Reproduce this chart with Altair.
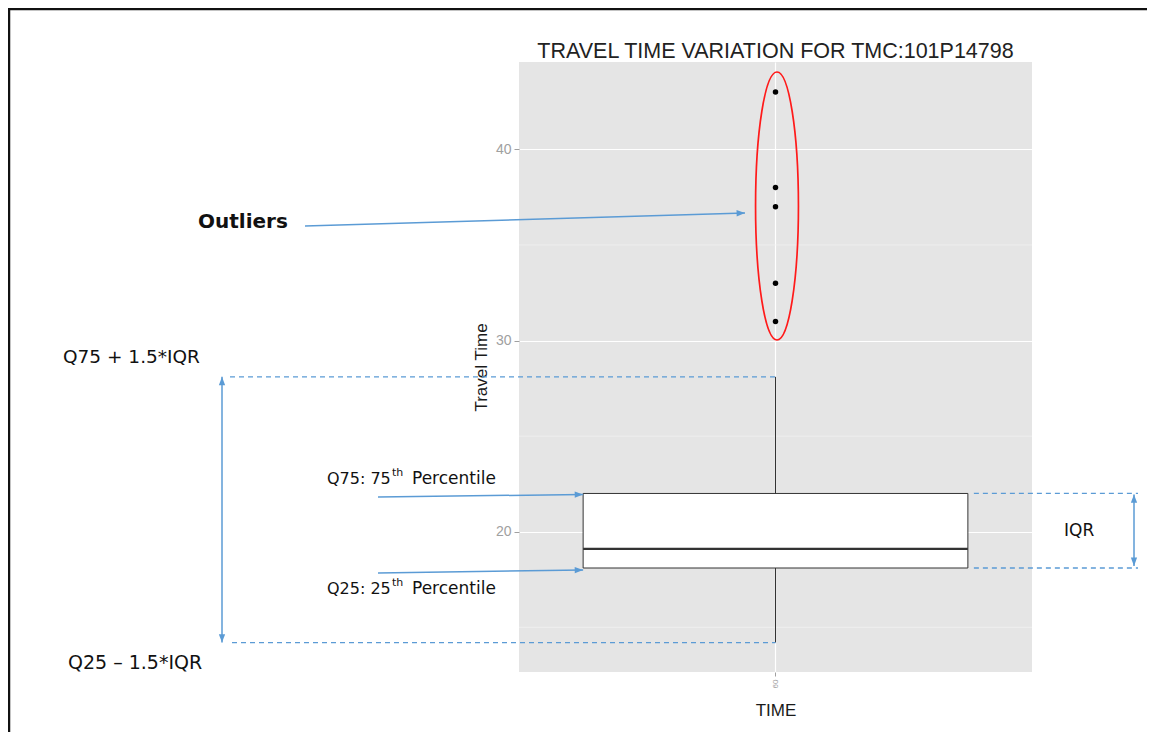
import math
import altair as alt
import pandas as pd

# ---------------- data ----------------
CATEGORY = ["60"]
POSITION = [1.0]
Q1 = [18.1]
MEDIAN = [19.1]
Q3 = [22.0]
WHISKER_LO = [14.2]
WHISKER_HI = [28.1]
OUTLIERS = [43.0, 38.0, 37.0, 33.0, 31.0]
MAJOR_TICKS = [20, 30, 40]
MINOR_TICKS = [15, 25, 35]
Y_DOMAIN = [12.66, 44.57]
X_DOMAIN = [0.4, 1.6]
BOX_HALF_WIDTH = 0.45

TITLE = "TRAVEL TIME VARIATION FOR TMC:101P14798"
Y_TITLE = "Travel Time"
X_TITLE = "TIME"

# ---------------- layout (page pixels) ----------------
PLOT_LEFT, PLOT_TOP, W, H = 519, 62, 513, 610
CHART_W, CHART_H = 1139, 724
BLUE = "#5B9BD5"
ANN_FONT = "DejaVu Sans"
GG_FONT = "Liberation Sans"


def px(x):
    return x - PLOT_LEFT


def py(y):
    return y - PLOT_TOP


YSCALE = alt.Scale(domain=Y_DOMAIN, nice=False, zero=False)
XSCALE = alt.Scale(domain=X_DOMAIN, nice=False, zero=False)
YAX = alt.Axis(values=MAJOR_TICKS, grid=True, gridColor="white", gridWidth=1.2,
               domain=False, tickColor="#a0a0a0", tickSize=5, labelColor="#a0a0a0",
               labelFont=GG_FONT, labelFontSize=14, labelPadding=3,
               title=Y_TITLE, titleFont=GG_FONT, titleFontSize=17,
               titleFontWeight="normal", titleColor="#1a1a1a", titlePadding=5)
XAX = alt.Axis(values=POSITION, labelExpr="'" + CATEGORY[0] + "'", grid=True,
               gridColor="white", gridWidth=1.2, domain=False, tickColor="#a0a0a0",
               tickSize=4, labelColor="#a0a0a0", labelFont=GG_FONT, labelFontSize=8,
               labelAngle=270, labelPadding=3, title=X_TITLE, titleFont=GG_FONT,
               titleFontSize=17, titleFontWeight="normal", titleColor="#1a1a1a",
               titlePadding=15)


def xenc(field=None, datum=None):
    if datum is not None:
        return alt.X(datum=datum, type="quantitative", scale=XSCALE, axis=XAX)
    return alt.X(field, type="quantitative", scale=XSCALE, axis=XAX)


def yenc(field=None, datum=None):
    if datum is not None:
        return alt.Y(datum=datum, type="quantitative", scale=YSCALE, axis=YAX)
    return alt.Y(field, type="quantitative", scale=YSCALE, axis=YAX)


box_df = pd.DataFrame({
    "pos": POSITION,
    "x0": [p - BOX_HALF_WIDTH for p in POSITION],
    "x1": [p + BOX_HALF_WIDTH for p in POSITION],
    "q1": Q1, "med": MEDIAN, "q3": Q3, "lo": WHISKER_LO, "hi": WHISKER_HI,
})
out_df = pd.DataFrame({"pos": POSITION * len(OUTLIERS), "v": OUTLIERS})
minor_df = pd.DataFrame({"v": MINOR_TICKS})

layers = []

# minor grid
layers.append(alt.Chart(minor_df).mark_rule(color="#f2f2f2", strokeWidth=0.7)
              .encode(y=yenc("v")))
# whisker
layers.append(alt.Chart(box_df).mark_rule(color="#333333", strokeWidth=1)
              .encode(x=xenc("pos"), y=yenc("lo"), y2="hi"))
# box
layers.append(alt.Chart(box_df).mark_rect(fill="white", stroke="#333333", strokeWidth=1)
              .encode(x=xenc("x0"), x2="x1", y=yenc("q1"), y2="q3"))
# median
layers.append(alt.Chart(box_df).mark_rule(color="#333333", strokeWidth=2.2)
              .encode(x=xenc("x0"), x2="x1", y=yenc("med")))
# outliers
layers.append(alt.Chart(out_df).mark_point(filled=True, color="black", size=30, opacity=1)
              .encode(x=xenc("pos"), y=yenc("v")))

# ---------------- annotations ----------------
ARROW_PATH = "M0,0L0.6,1.6L-0.6,1.6Z"


def head(x, y, ang):
    return (alt.Chart().mark_point(shape=ARROW_PATH, filled=True, fill=BLUE, strokeWidth=0,
                                   size=110, opacity=1, angle=ang % 360)
            .encode(x=alt.value(x), y=alt.value(y)))


def arrow(x1, y1, x2, y2, both=False):
    out = [alt.Chart().mark_rule(color=BLUE, strokeWidth=1.5)
           .encode(x=alt.value(x1), y=alt.value(y1), x2=alt.value(x2), y2=alt.value(y2))]
    ang = math.degrees(math.atan2(x2 - x1, -(y2 - y1)))
    out.append(head(x2, y2, ang))
    if both:
        out.append(head(x1, y1, ang + 180))
    return out


def dashed(x1, x2, v):
    return (alt.Chart().mark_rule(color=BLUE, strokeWidth=1.3, strokeDash=[5, 4])
            .encode(x=alt.value(x1), x2=alt.value(x2), y=yenc(datum=v)))


def label(text, x, y, size, align="left", weight="normal", font=ANN_FONT, color="#111111"):
    return (alt.Chart().mark_text(align=align, baseline="middle", font=font, fontSize=size,
                                  fontWeight=weight, color=color)
            .encode(x=alt.value(x), y=alt.value(y), text=alt.value(text)))


def yv(v):
    return (Y_DOMAIN[1] - v) / (Y_DOMAIN[1] - Y_DOMAIN[0]) * H


box_left = (POSITION[0] - BOX_HALF_WIDTH - X_DOMAIN[0]) / (X_DOMAIN[1] - X_DOMAIN[0]) * W
box_right = (POSITION[0] + BOX_HALF_WIDTH - X_DOMAIN[0]) / (X_DOMAIN[1] - X_DOMAIN[0]) * W
center = (POSITION[0] - X_DOMAIN[0]) / (X_DOMAIN[1] - X_DOMAIN[0]) * W

# dashed guide lines
layers.append(dashed(px(230), center, WHISKER_HI[0]))
layers.append(dashed(px(232), center, WHISKER_LO[0]))
layers.append(dashed(box_right + 6, px(1138), Q3[0]))
layers.append(dashed(box_right + 6, px(1138), Q1[0]))

# arrows
layers += arrow(px(305), py(226), px(745), py(213))
layers += arrow(px(222), yv(WHISKER_LO[0]), px(222), yv(WHISKER_HI[0]), both=True)
layers += arrow(px(378), py(497), box_left, yv(Q3[0]) + 1)
layers += arrow(px(378), py(573), box_left, yv(Q1[0]) + 2)
layers += arrow(px(1134), yv(Q1[0]) - 2, px(1134), yv(Q3[0]) + 1, both=True)

# text
layers.append(label("Outliers", px(198), py(222), 20, weight="bold"))
layers.append(label("Q75 + 1.5*IQR", px(63), py(357), 18.5))
layers.append(label("Q75: 75", px(327), py(479), 16))
layers.append(label("th", px(392), py(473), 11))
layers.append(label("Percentile", px(412), py(479), 17))
layers.append(label("Q25: 25", px(327), py(589), 16))
layers.append(label("th", px(392), py(583), 11))
layers.append(label("Percentile", px(412), py(589), 17))
layers.append(label("Q25 \u2013 1.5*IQR", px(68), py(663), 19))
layers.append(label("IQR", px(1064), py(531), 17))
layers.append(label(TITLE, center, py(52), 21.5, align="center", font=GG_FONT, color="#222222"))

# red ellipse around outliers
k = 0.5523
a = 0.16
ELLIPSE = (f"M0,-1C{k*a:.4f},-1 {a},{-k} {a},0C{a},{k} {k*a:.4f},1 0,1"
           f"C{-k*a:.4f},1 {-a},{k} {-a},0C{-a},{-k} {-k*a:.4f},-1 0,-1Z")
layers.append(alt.Chart().mark_point(shape=ELLIPSE, filled=False, stroke="#ff1a1a",
                                     strokeWidth=1.7, size=268 ** 2, opacity=1)
              .encode(x=alt.value(px(777)), y=alt.value(py(206))))

# figure border
layers.append(alt.Chart().mark_rect(fillOpacity=0, stroke="#111111", strokeWidth=2.5)
              .encode(x=alt.value(px(9)), y=alt.value(py(9)),
                      x2=alt.value(px(1200)), y2=alt.value(py(800))))

chart = (alt.layer(*layers)
         .properties(width=W, height=H,
                     autosize=alt.AutoSizeParams(type="none"),
                     padding={"left": PLOT_LEFT - 8, "top": PLOT_TOP - 8,
                              "right": CHART_W - (PLOT_LEFT - 8) - W,
                              "bottom": CHART_H - (PLOT_TOP - 8) - H})
         .configure(background="white",
                    view=alt.ViewConfig(fill="#E5E5E5", strokeWidth=0, stroke=None)))

chart.save("out.html", embed_options={"renderer": "svg", "actions": False})
